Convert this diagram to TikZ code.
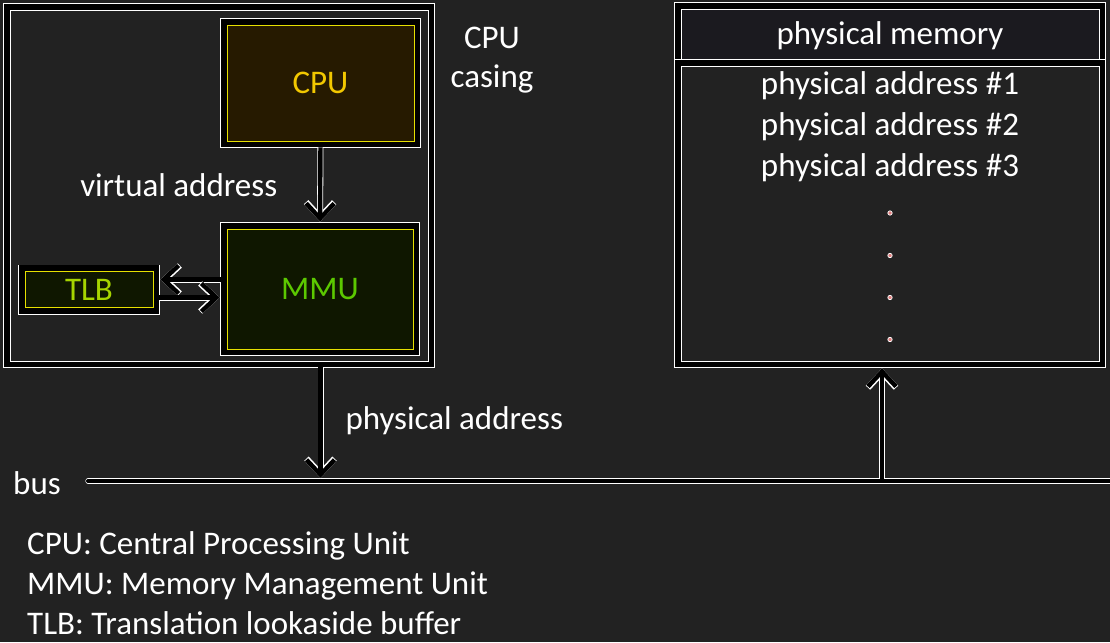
\documentclass[tikz,border=0pt]{standalone}
\usepackage{fontspec}
\setmainfont{Carlito}
\usetikzlibrary{arrows.meta,calc}

\definecolor{bg}{HTML}{222222}
\definecolor{cpufill}{HTML}{261A00}
\definecolor{mmufill}{HTML}{0F1700}
\definecolor{headfill}{HTML}{1B1A1F}
\definecolor{edgeyellow}{HTML}{E6E000}
\definecolor{cputext}{HTML}{F2C800}
\definecolor{mmutext}{HTML}{5CC800}
\definecolor{tlbtext}{HTML}{A6D400}
\definecolor{dotred}{HTML}{E08080}

\begin{document}
\begin{tikzpicture}[x=1pt, y=-1pt,
    font=\fontsize{33}{39}\selectfont,
    band/.style={inner sep=0pt,
      preaction={draw=white, line width=14pt},
      preaction={draw=black, line width=12.6pt}},
    chip/.style={band, draw=edgeyellow, line width=0.8pt},
    pane/.style={band, draw=white, line width=0.6pt, text=white},
    lbl/.style={inner sep=0pt, text=white},
    link/.style={white, line width=6pt, -{Straight Barb[length=15pt,width=28pt]},
      postaction={draw=black, line width=4.4pt, -{Straight Barb[length=15pt,width=28pt]}}},
    busline/.style={draw=white, double=black, line width=0.6pt, double distance=4pt, line cap=round}]

    % Background
    \fill[bg] (0,0) rectangle (1110,642);
    \useasboundingbox (0,0) rectangle (1110,642);

    % CPU casing
    \node[pane, fill=bg, minimum width=418pt, minimum height=351pt] (casing) at (219,185.5) {};
    \node[lbl, align=center] (casinglbl) at (492,60) {CPU\\casing};

    % Units inside the casing
    \node[chip, fill=cpufill, text=cputext, minimum width=187pt, minimum height=116pt] (cpu) at (320.5,83) {CPU};
    \node[chip, fill=mmufill, text=mmutext, minimum width=186pt, minimum height=120pt] (mmu) at (320,289) {MMU};
    \node[chip, fill=mmufill, text=tlbtext, minimum width=128pt, minimum height=36pt] (tlb) at (89,289.5) {TLB};

    % Physical memory
    \node[pane, fill=headfill, text depth=2pt, minimum width=418pt, minimum height=50pt] (memhead) at (890,34) {physical memory};
    \node[pane, fill=bg, minimum width=418pt, minimum height=295pt] (membody) at (890,213.5) {};
    \foreach \n/\y in {1/86,2/127,3/168}
        \node[lbl] (addr\n) at (890,\y) {physical address \#\n};
    \foreach \y in {213,255.5,297.5,339.5}
        \filldraw[draw=white, fill=dotred, line width=0.7pt] (890,\y) circle (2.2pt);

    % Bus
    \coordinate (busL) at (88,481);
    \coordinate (busR) at (1110,481);
    \draw[busline] (busL) -- (busR);
    \node[lbl, anchor=east] (buslbl) at ([xshift=-27pt,yshift=-2pt]busL) {bus};

    % Connections
    \draw[link, shorten <=6pt, shorten >=7pt] (cpu.south) -- (mmu.north)
        node[lbl, midway, left=40pt] (vaddr) {virtual address};
    \draw[link, shorten <=6pt, shorten >=7pt] ([yshift=10pt]tlb.east -| mmu.west) -- ([yshift=10pt]tlb.east);
    \draw[link, shorten <=6pt, shorten >=7pt] ([yshift=-8pt]tlb.east) -- ([yshift=-8pt]tlb.east -| mmu.west);
    \draw[link, shorten <=6pt, shorten >=3pt] (casing.south -| cpu.south) -- (busL -| cpu.south)
        node[lbl, midway, right=22pt] (paddr) {physical address};
    \coordinate (tap) at (882,481);
    \draw[link, shorten <=2pt, shorten >=7pt] (tap) -- (tap |- membody.south);

    % Legend
    \node[lbl, anchor=base west] (keycpu) at (27,554) {CPU: Central Processing Unit};
    \node[lbl, anchor=base west] (keymmu) at (27,594) {MMU: Memory Management Unit};
    \node[lbl, anchor=base west] (keytlb) at (27,634) {TLB: Translation lookaside buffer};
\end{tikzpicture}
\end{document}
